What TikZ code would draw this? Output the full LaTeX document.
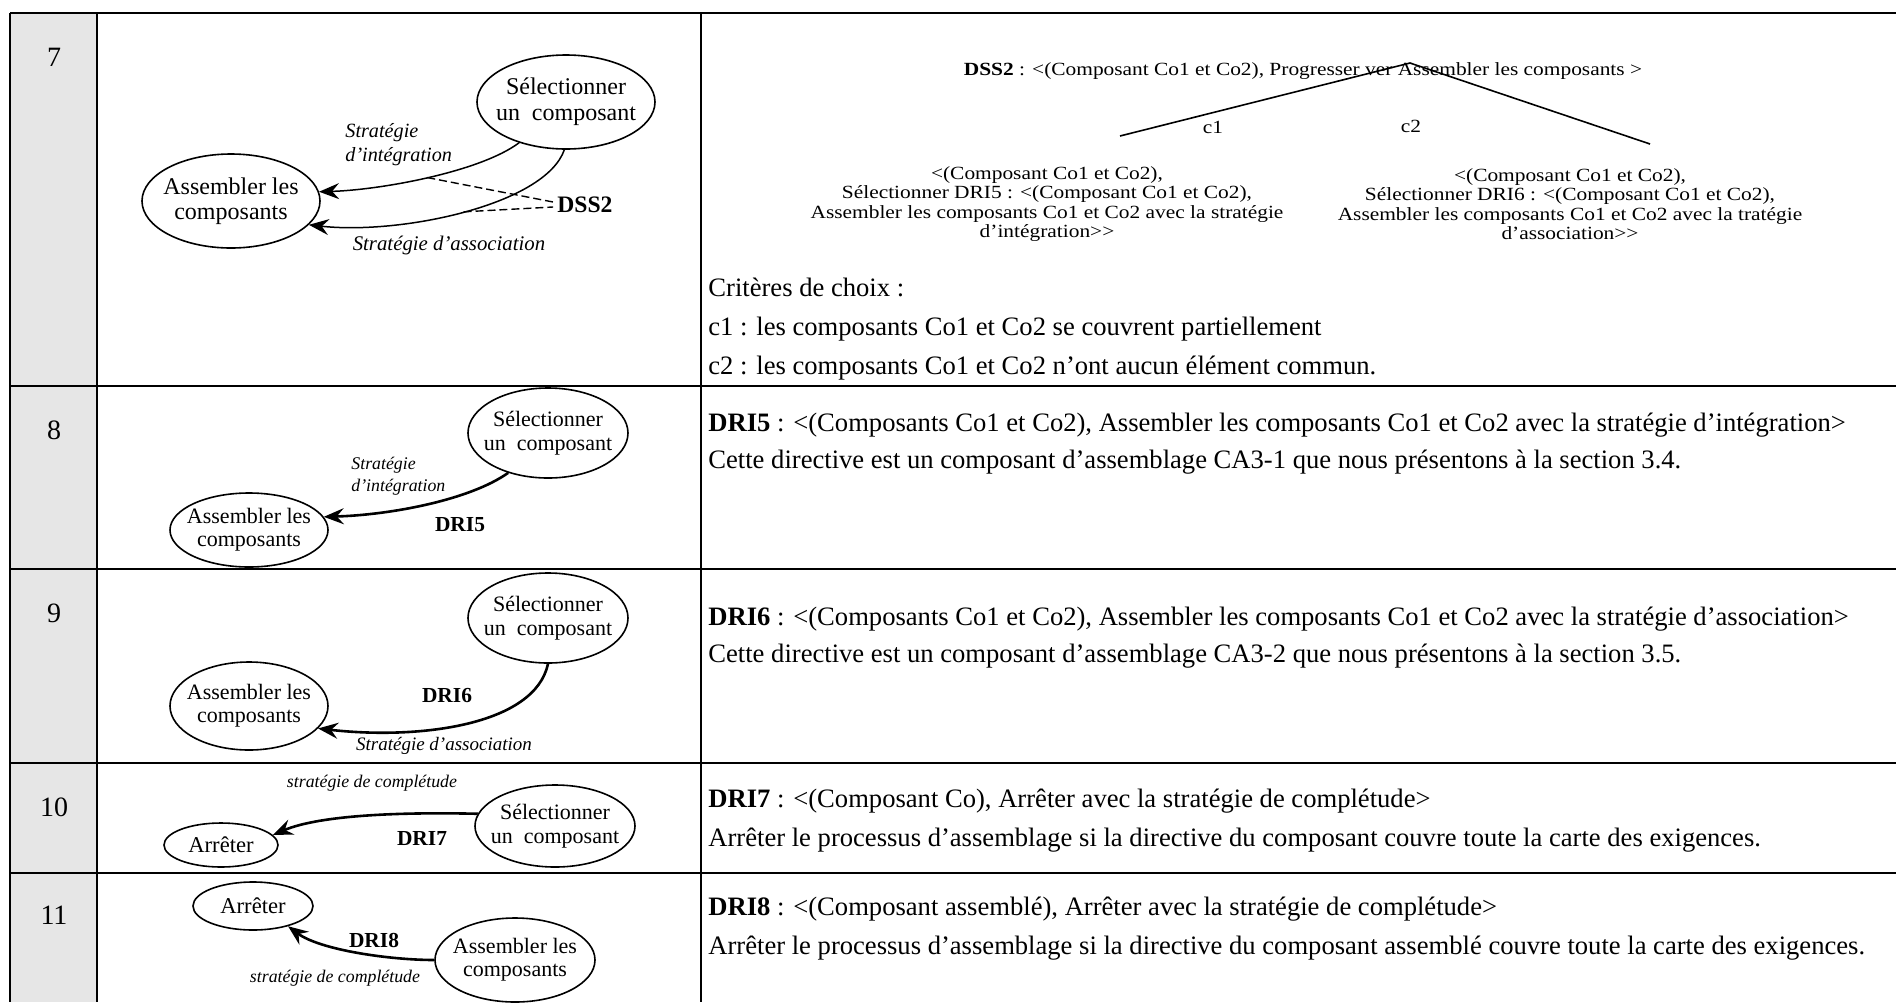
\documentclass[tikz,border=0pt]{standalone}
\usepackage{fontspec}
\setmainfont{Liberation Serif}
\newfontfamily\policebloc{Liberation Serif}[FakeStretch=1.15,Ligatures=TeX]
\usepackage{tikz}
\usetikzlibrary{positioning,arrows.meta,shapes.geometric}
\definecolor{grisnum}{RGB}{230,230,230}
\newcommand{\taille}[2]{\fontsize{#1pt}{#2pt}\selectfont}

\begin{document}
\begin{tikzpicture}[x=0.5pt,y=-0.5pt,
  trait/.style={line width=1.4pt},
  num/.style={font=\taille{14}{16}},
  intention/.style={draw,ellipse,line width=0.8pt,inner sep=-4pt,align=center},
  strat/.style={inner sep=0pt,align=left},
  dir/.style={inner sep=0pt},
  fleche/.style={line width=1.3pt,-{Stealth[length=10pt,width=8pt,inset=3.5pt]}},
  pointille/.style={line width=0.7pt,dash pattern=on 4pt off 2pt},
  corps/.style={anchor=west,inner sep=0pt,font=\taille{13.3}{16}},
  petit/.style={inner sep=0pt,font=\policebloc\taille{9.3}{9.75}}]
\useasboundingbox (0,0) rectangle (1896,1002);

% grille du tableau
\fill[grisnum] (10,13) rectangle (97,1002);
\foreach \y in {13,386,569,763,873} \draw[trait] (10,\y) -- (1896,\y);
\foreach \x in {10,97,701} \draw[trait] (\x,13) -- (\x,1002);
\foreach \n/\y in {7/57,8/430,9/613,10/807,11/915} \node[num] (n\n) at (54,\y) {\n};

% ligne 7
\node[intention,font=\taille{12}{13},minimum width=89pt,minimum height=47pt] (sel7) at (566,102) {Sélectionner\\un\ \ composant};
\node[intention,font=\taille{12}{12.5},minimum width=89pt,minimum height=47pt] (ass7) at (231,201) {Assembler les\\composants};
\node[dir,font=\taille{11.8}{13}\bfseries] (dss) at (585,205) {DSS2};
\draw[fleche,line width=0.75pt] (sel7.221) .. controls (480,172) and (380,190) .. coordinate[pos=0.5] (m1) (ass7.6);
\draw[fleche,line width=0.75pt] (sel7.268) .. controls (545,205) and (400,235) .. coordinate[pos=0.5] (m2) (ass7.343);
\draw[pointille] (m1) -- ([xshift=-2pt,yshift=1.5pt]dss.west);
\draw[pointille] (m2) -- ([xshift=-2pt,yshift=-1pt]dss.west);
\node[strat,anchor=west,font=\taille{10.1}{12}\itshape] (si7) at (345,145) {Stratégie\\d'intégration};
\node[strat,font=\taille{10.4}{12}\itshape] (sa7) at (449,245) {Stratégie d'association};

\node[petit] (dss7) at (1303,71) {\textbf{DSS2} : <(Composant Co1 et Co2), Progresser ver Assembler les composants >};
\coordinate (apex) at (1410,63);
\coordinate (bg) at (1120,136);
\coordinate (bd) at (1650,144);
\draw[line width=0.8pt] (bg) -- (apex) -- (bd);
\node[petit] (c1) at (1213,127) {c1};
\node[petit] (c2) at (1411,126) {c2};
\node[petit,align=center] (dri5g) at (1047,204) {<(Composant Co1 et Co2),\\Sélectionner DRI5 : <(Composant Co1 et Co2),\\Assembler les composants Co1 et Co2 avec la stratégie\\d'intégration>{}>};
\node[petit,align=center] (dri6d) at (1570,204) {<(Composant Co1 et Co2),\\Sélectionner DRI6 : <(Composant Co1 et Co2),\\Assembler les composants Co1 et Co2 avec la tratégie\\d'association>{}>};
\node[corps] (crit) at (708,287) {Critères de choix :};
\node[corps] (crit1) at (708,329) {c1 : les composants Co1 et Co2 se couvrent partiellement};
\node[corps] (crit2) at (708,368) {c2 : les composants Co1 et Co2 n'ont aucun élément commun.};

% ligne 8
\node[intention,font=\taille{11}{12},minimum width=80pt,minimum height=45pt] (sel8) at (548,433) {Sélectionner\\un\ \ composant};
\node[intention,font=\taille{11}{11.5},minimum width=79pt,minimum height=37pt] (ass8) at (249,530) {Assembler les\\composants};
\draw[fleche] (sel8.225) .. controls (470,500) and (390,515) .. (ass8.10);
\node[strat,anchor=west,font=\taille{8.9}{11}\itshape] (si8) at (351,476) {Stratégie\\d'intégration};
\node[dir,font=\taille{10.7}{12}\bfseries] (dri5) at (460,525) {DRI5};
\node[corps] (t8a) at (708,425) {\textbf{DRI5} : <(Composants Co1 et Co2), Assembler les composants Co1 et Co2 avec la stratégie d'intégration>};
\node[corps] (t8b) at (708,462) {Cette directive est un composant d'assemblage CA3-1 que nous présentons à la section 3.4.};

% ligne 9
\node[intention,font=\taille{11}{12},minimum width=80pt,minimum height=45pt] (sel9) at (548,618) {Sélectionner\\un\ \ composant};
\node[intention,font=\taille{11}{11.5},minimum width=79pt,minimum height=44pt] (ass9) at (249,706) {Assembler les\\composants};
\draw[fleche] (sel9.270) .. controls (535,725) and (420,740) .. (ass9.342);
\node[dir,font=\taille{10.7}{12}\bfseries] (dri6) at (447,696) {DRI6};
\node[strat,font=\taille{9.5}{11}\itshape] (sa9) at (444,746) {Stratégie d'association};
\node[corps] (t9a) at (708,619) {\textbf{DRI6} : <(Composants Co1 et Co2), Assembler les composants Co1 et Co2 avec la stratégie d'association>};
\node[corps] (t9b) at (708,656) {Cette directive est un composant d'assemblage CA3-2 que nous présentons à la section 3.5.};

% ligne 10
\node[intention,font=\taille{11}{12},minimum width=80pt,minimum height=41pt] (sel10) at (555,826) {Sélectionner\\un\ \ composant};
\node[intention,font=\taille{11.3}{12},minimum width=57pt,minimum height=22pt] (arr10) at (221,845) {Arrêter};
\draw[fleche] (sel10.171) .. controls (400,812) and (320,815) .. (arr10.11);
\node[strat,font=\taille{8.9}{11}\itshape] (sc10) at (372,783) {stratégie de complétude};
\node[dir,font=\taille{10.7}{12}\bfseries] (dri7) at (422,839) {DRI7};
\node[corps] (t10a) at (708,801) {\textbf{DRI7} : <(Composant Co), Arrêter avec la stratégie de complétude>};
\node[corps] (t10b) at (708,840) {Arrêter le processus d'assemblage si la directive du composant couvre toute la carte des exigences.};

% ligne 11
\node[intention,font=\taille{11.3}{12},minimum width=60pt,minimum height=24pt] (arr11) at (253,906) {Arrêter};
\node[intention,font=\taille{11}{11.5},minimum width=80pt,minimum height=42pt] (ass11) at (515,960) {Assembler les\\composants};
\draw[fleche] (ass11.180) .. controls (390,960) and (320,950) .. (arr11.330);
\node[dir,font=\taille{10.7}{12}\bfseries] (dri8) at (374,940) {DRI8};
\node[strat,font=\taille{8.9}{11}\itshape] (sc11) at (335,978) {stratégie de complétude};
\node[corps] (t11a) at (708,909) {\textbf{DRI8} : <(Composant assemblé), Arrêter avec la stratégie de complétude>};
\node[corps] (t11b) at (708,948) {Arrêter le processus d'assemblage si la directive du composant assemblé couvre toute la carte des exigences.};
\end{tikzpicture}
\end{document}
